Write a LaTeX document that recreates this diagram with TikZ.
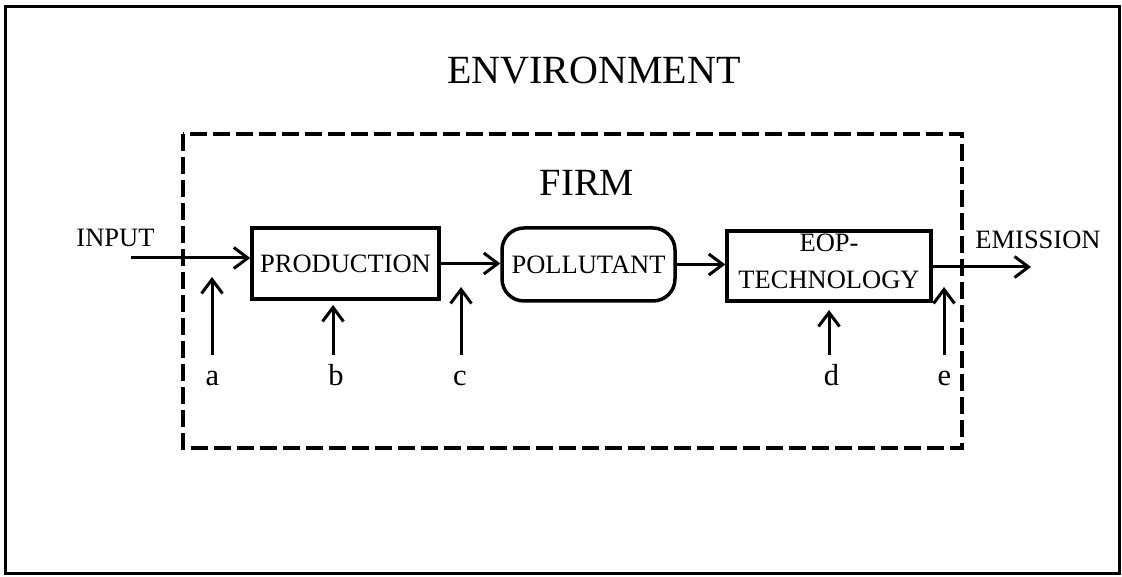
\documentclass[tikz,border=0pt]{standalone}
\usepackage{fontspec}
\setmainfont{Liberation Serif}
\usetikzlibrary{arrows.meta}
\begin{document}
\begin{tikzpicture}[x=1pt,y=-1pt,
  lbl/.style={inner sep=0pt,font=\fontsize{26.5}{30}\selectfont},
  letter/.style={inner sep=0pt,font=\fontsize{30.5}{34}\selectfont},
  bigtxt/.style={inner sep=0pt,font=\fontsize{40}{46}\selectfont},
  stagebox/.style={draw,line width=3.5pt,inner sep=0pt,font=\fontsize{26.5}{37}\selectfont,align=center},
  flow/.style={line width=3pt,-{Straight Barb[length=14pt,width=21pt,line width=3pt]}},
  frame/.style={line width=3pt},
  firmbox/.style={line width=4pt,dash pattern=on 17pt off 6pt}
]
\useasboundingbox (0,0) rectangle (1122,577);
\draw[frame] (5,6.5) rectangle (1119.5,573.5);
\draw[firmbox] (183,134) rectangle (962,448);
\node[bigtxt] (env) at (594,71) {ENVIRONMENT};
\node[bigtxt,font=\fontsize{38.5}{44}\selectfont] (firm) at (587,183) {FIRM};

\node[stagebox,minimum width=187pt,minimum height=71pt] (prod) at (345.5,263.5) {PRODUCTION};
\node[stagebox,minimum width=173pt,minimum height=73pt,rounded corners=22pt] (poll) at (588.5,264.5) {POLLUTANT};
\node[stagebox,minimum width=204pt,minimum height=70pt,text depth=10pt] (eop) at (829,266) {EOP-\\TECHNOLOGY};

\node[lbl,anchor=base] (input) at (115.5,247) {INPUT};
\node[lbl,anchor=base] (emis) at (1038,249) {EMISSION};

\coordinate (in0) at (131,258);
\coordinate (em0) at (1031,267);
\draw[flow] (in0) -- (in0 -| prod.west);
\draw[flow] (prod.east) -- (prod.east -| poll.west);
\draw[flow] (poll.east) -- (poll.east -| eop.west);
\draw[flow] (eop.east |- em0) -- (em0);

\node[letter,anchor=base] (la) at (212.5,385) {a};
\node[letter,anchor=base] (lb) at (336,385) {b};
\node[letter,anchor=base] (lc) at (460,385) {c};
\node[letter,anchor=base] (ld) at (831.5,385) {d};
\node[letter,anchor=base] (le) at (944.5,385) {e};

\coordinate (a1) at (212,355); \coordinate (a2) at (212,277);
\coordinate (b1) at (333,355); \coordinate (b2) at (333,305);
\coordinate (c1) at (461,355); \coordinate (c2) at (461,287);
\coordinate (d1) at (829,355); \coordinate (d2) at (829,310);
\coordinate (e1) at (944,355); \coordinate (e2) at (944,287);
\draw[flow] (a1) -- (a2);
\draw[flow] (b1) -- (b2);
\draw[flow] (c1) -- (c2);
\draw[flow] (d1) -- (d2);
\draw[flow] (e1) -- (e2);
\end{tikzpicture}
\end{document}
